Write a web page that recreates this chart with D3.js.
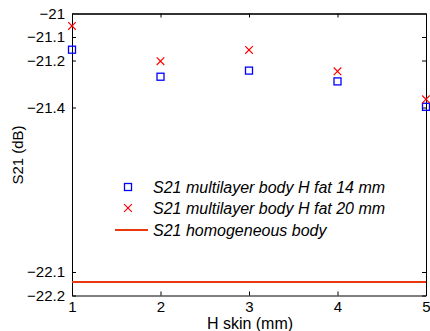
<!DOCTYPE html>
<html><head><meta charset="utf-8">
<script src="https://cdn.jsdelivr.net/npm/d3@7"></script>
<style>body{margin:0;background:#fff}svg{display:block}text{font-family:"Liberation Sans",Arial,sans-serif}</style>
</head><body>
<script>
const hSkin = [1, 2, 3, 4, 5];
const fat14 = [-21.154, -21.269, -21.243, -21.289, -21.397];
const fat20 = [-21.053, -21.203, -21.155, -21.246, -21.365];
const homogeneous = -22.143;
const xTicks = [1, 2, 3, 4, 5];
const yTicks = [-21, -21.1, -21.2, -21.4, -22.1, -22.2];
const legendLabels = ["S21 multilayer body H fat 14 mm", "S21 multilayer body H fat 20 mm", "S21 homogeneous body"];

const W = 430, H = 331;
const m = {l: 72, r: 426, t: 13.5, b: 295.5};
const FS = 15, LFS = 16;
const svg = d3.select("body").append("svg").attr("width", W).attr("height", H);
const x = d3.scaleLinear().domain([1, 5]).range([m.l, m.r]);
const y = d3.scaleLinear().domain([-22.2, -21]).range([m.b, m.t]);
const fmt = d => d3.format("")(d).replace("-", "\u2212");

// axes
const gl = svg.append("g").attr("transform", `translate(${m.l},0)`)
  .call(d3.axisLeft(y).tickValues(yTicks).tickSizeInner(-4).tickSizeOuter(0).tickPadding(7).tickFormat(fmt));
const gr = svg.append("g").attr("transform", `translate(${m.r},0)`)
  .call(d3.axisRight(y).tickValues(yTicks).tickSizeInner(-4).tickSizeOuter(0).tickFormat(""));
const gb = svg.append("g").attr("transform", `translate(0,${m.b})`)
  .call(d3.axisBottom(x).tickValues(xTicks).tickSizeInner(-4).tickSizeOuter(0).tickPadding(6).tickFormat(d3.format("d")));
const gt = svg.append("g").attr("transform", `translate(0,${m.t})`)
  .call(d3.axisTop(x).tickValues(xTicks).tickSizeInner(-4).tickSizeOuter(0).tickFormat(""));
[gl, gr, gb, gt].forEach(g => {
  g.selectAll("path.domain").attr("stroke", "#000").attr("stroke-width", 1);
  g.selectAll(".tick line").attr("stroke", "#000");
  g.selectAll("text").attr("font-size", FS).attr("fill", "#000")
   .attr("font-family", '"Liberation Sans",Arial,sans-serif');
});
gt.select("path.domain").attr("stroke", "#333").attr("stroke-width", 2);

// homogeneous line
svg.append("line").attr("x1", x(1)).attr("x2", x(5))
  .attr("y1", y(homogeneous)).attr("y2", y(homogeneous))
  .attr("stroke", "#e8380d").attr("stroke-width", 2);

// markers
const s = 3.5;
svg.selectAll("rect.sq").data(hSkin).enter().append("rect")
  .attr("x", (d, i) => x(d) - s).attr("y", (d, i) => y(fat14[i]) - s)
  .attr("width", 2 * s).attr("height", 2 * s)
  .attr("fill", "none").attr("stroke", "#0000ff").attr("stroke-width", 1.3);
const c = 3.8;
svg.selectAll("path.cr").data(hSkin).enter().append("path")
  .attr("d", (d, i) => { const cx = x(d), cy = y(fat20[i]);
    return `M${cx-c},${cy-c}L${cx+c},${cy+c}M${cx-c},${cy+c}L${cx+c},${cy-c}`; })
  .attr("fill", "none").attr("stroke", "#ff0000").attr("stroke-width", 1.2);

// legend
const lg = svg.append("g");
const ly = [187, 208, 230];
lg.append("rect").attr("x", 128 - s).attr("y", ly[0] - s).attr("width", 2 * s).attr("height", 2 * s)
  .attr("fill", "none").attr("stroke", "#0000ff").attr("stroke-width", 1.3);
lg.append("path").attr("d", `M${128-c},${ly[1]-c}L${128+c},${ly[1]+c}M${128-c},${ly[1]+c}L${128+c},${ly[1]-c}`)
  .attr("stroke", "#ff0000").attr("stroke-width", 1.2);
lg.append("line").attr("x1", 115).attr("x2", 148).attr("y1", ly[2]).attr("y2", ly[2])
  .attr("stroke", "#e8380d").attr("stroke-width", 2);
legendLabels.forEach((t, i) => lg.append("text").attr("x", 153).attr("y", ly[i] + 5.5)
  .attr("font-size", LFS).attr("font-style", "italic").text(t));

// axis labels
svg.append("text").attr("x", 250).attr("y", 329).attr("text-anchor", "middle").attr("font-size", LFS).text("H skin (mm)");
svg.append("text").attr("transform", "translate(23,155) rotate(-90)").attr("text-anchor", "middle")
  .attr("font-size", FS).text("S21 (dB)");
</script>
</body></html>
